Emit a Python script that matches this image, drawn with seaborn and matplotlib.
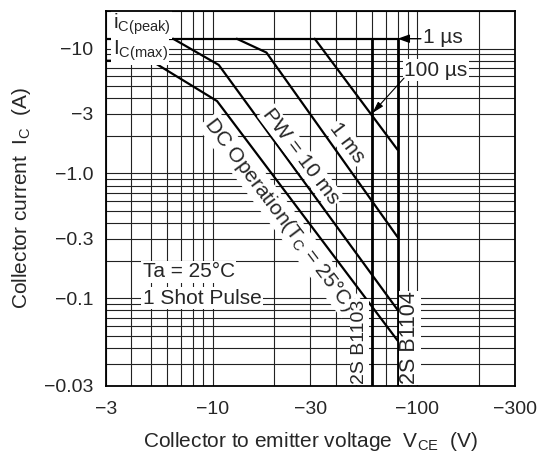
import matplotlib
matplotlib.use("Agg")
import matplotlib.pyplot as plt
import seaborn as sns
import numpy as np
from matplotlib.ticker import FixedLocator, LogLocator, NullFormatter

# ---- data (PNP: negative values) ----
vce_dc = [-3, -5, -10.5, -80]
ic_dc = [-8, -8, -3.8, -0.046]
vce_10ms = [-6.4, -10.7, -80]
ic_10ms = [-12, -7.4, -0.081]
vce_1ms = [-13.1, -18.3, -80]
ic_1ms = [-12, -9.3, -0.31]
vce_100us = [-31.5, -80]
ic_100us = [-12, -1.55]
vce_peak = [-3, -80]
ic_peak = [-12, -12]
vce_b1103 = [-60, -60]
vce_b1104 = [-80, -80]
ic_limit = [-12, -0.02]

x_ticks = [-3, -10, -30, -100, -300]
x_ticklabels = ["\u22123", "\u221210", "\u221230", "\u2212100", "\u2212300"]
y_ticks = [-10, -3, -1, -0.3, -0.1, -0.02]
y_ticklabels = ["\u221210", "\u22123", "\u22121.0", "\u22120.3", "\u22120.1", "\u22120.03"]

sns.set_style("white")
plt.rcParams["font.family"] = ["Liberation Sans", "DejaVu Sans"]
plt.rcParams["mathtext.fontset"] = "custom"
plt.rcParams["mathtext.rm"] = "Liberation Sans"
plt.rcParams["mathtext.it"] = "Liberation Sans"
plt.rcParams["mathtext.default"] = "regular"

fig = plt.figure(figsize=(5.41, 4.53), dpi=100)
ax = fig.add_axes([0.1954, 0.1486, 0.7566, 0.8271])
ax.set_xscale("log")
ax.set_yscale("log")
ax.set_xlim(3, 300)
ax.set_ylim(0.02, 20)

neg = lambda a: [-v for v in a]

curve_kw = dict(color="black", linewidth=1.6, sort=False, estimator=None, ax=ax, legend=False, zorder=3)
sns.lineplot(x=neg(vce_dc), y=neg(ic_dc), **curve_kw)
sns.lineplot(x=neg(vce_10ms), y=neg(ic_10ms), **curve_kw)
sns.lineplot(x=neg(vce_1ms), y=neg(ic_1ms), **curve_kw)
sns.lineplot(x=neg(vce_100us), y=neg(ic_100us), **curve_kw)
sns.lineplot(x=neg(vce_peak), y=neg(ic_peak), **curve_kw)
lim_kw = dict(color="black", linewidth=2.0, sort=False, estimator=None, ax=ax, legend=False, zorder=3)
sns.lineplot(x=neg(vce_b1103), y=neg(ic_limit), **lim_kw)
sns.lineplot(x=neg(vce_b1104), y=neg(ic_limit), **lim_kw)

# ticks & grid
ax.xaxis.set_major_locator(FixedLocator(neg(x_ticks)))
ax.set_xticklabels(x_ticklabels)
ax.xaxis.set_minor_locator(LogLocator(base=10, subs=np.arange(1, 10)))
ax.xaxis.set_minor_formatter(NullFormatter())
ax.yaxis.set_major_locator(FixedLocator(neg(y_ticks)))
ax.set_yticklabels(y_ticklabels)
ax.yaxis.set_minor_locator(LogLocator(base=10, subs=np.arange(1, 10)))
ax.yaxis.set_minor_formatter(NullFormatter())
ax.tick_params(which="both", length=0)
ax.tick_params(axis="x", labelsize=14, pad=11)
ax.tick_params(axis="y", labelsize=14, pad=9)
ax.grid(True, which="both", color="#222222", linewidth=0.8)
ax.set_axisbelow(True)
for s in ax.spines.values():
    s.set_visible(True)
    s.set_color("black")
    s.set_linewidth(1.3)
    s.set_zorder(4)

ax.set_xlabel("Collector to emitter voltage  V$_{CE}$  (V)", fontsize=15, labelpad=9)
ax.set_ylabel("Collector current  I$_C$  (A)", fontsize=15, labelpad=8)

TZ = 3.5
wb = dict(facecolor="white", edgecolor="none", pad=1.0)
ax.text(3.25, 15.6, "i$_{C(peak)}$", fontsize=15, ha="left", va="center", bbox=wb, zorder=TZ)
ax.text(3.25, 9.6, "I$_{C(max)}$", fontsize=15, ha="left", va="center", bbox=wb, zorder=TZ)

ax.text(106, 12.3, "1 \u00b5s", fontsize=15, ha="left", va="center", bbox=wb, zorder=TZ)
ax.annotate("", xy=(80, 12), xytext=(104, 12),
            arrowprops=dict(arrowstyle="-|>,head_length=0.7,head_width=0.25", color="black", lw=1.0,
                            shrinkA=0, shrinkB=0), zorder=5)
ax.text(86, 6.7, "100 \u00b5s", fontsize=15, ha="left", va="center", bbox=wb, zorder=TZ)
ax.annotate("", xy=(60.3, 3.05), xytext=(86, 5.8),
            arrowprops=dict(arrowstyle="-|>,head_length=0.7,head_width=0.2", color="black", lw=0.8,
                            shrinkA=0, shrinkB=0), zorder=5)

rot = -53
ax.text(27, 1.36, "PW = 10 ms", fontsize=15, rotation=rot, ha="center", va="center",
        rotation_mode="anchor", bbox=wb, zorder=TZ)
ax.text(45.5, 1.75, "1 ms", fontsize=15, rotation=rot, ha="center", va="center",
        rotation_mode="anchor", bbox=wb, zorder=TZ)
ax.text(21.3, 0.47, "DC Operation(T$_C$ = 25\u00b0C)", fontsize=15, rotation=rot, ha="center",
        va="center", rotation_mode="anchor", bbox=wb, zorder=TZ)

ax.text(4.55, 0.163, "Ta = 25\u00b0C", fontsize=15, ha="left", va="center", bbox=wb, zorder=TZ)
ax.text(4.55, 0.1, "1 Shot Pulse", fontsize=15, ha="left", va="center", bbox=wb, zorder=TZ)

ax.text(52, 0.0205, "2S B1103", fontsize=14, rotation=90, ha="center", va="bottom",
        bbox=dict(facecolor="white", edgecolor="none", pad=0.5), zorder=TZ)
ax.text(92, 0.0205, "2S B1104", fontsize=15.5, rotation=90, ha="center", va="bottom",
        bbox=dict(facecolor="white", edgecolor="none", pad=0.5), zorder=TZ)

fig.savefig("out.png", dpi=100)
